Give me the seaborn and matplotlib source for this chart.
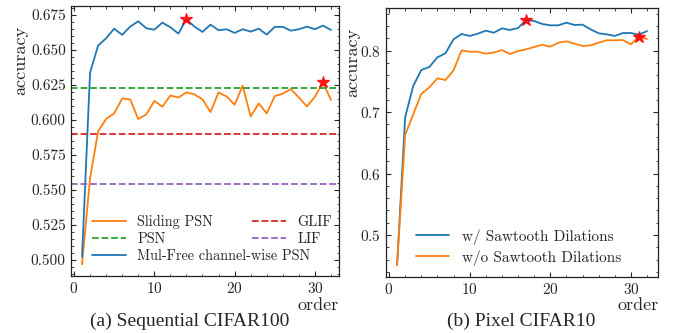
import numpy as np
import pandas as pd
import seaborn as sns
import matplotlib.pyplot as plt

# order values (x axis) shared by every curve
order = list(range(1, 33))

# (a) Sequential CIFAR100
mulfree_psn = [0.5024, 0.6339, 0.6531, 0.6584, 0.6652, 0.6608, 0.6667, 0.6705,
               0.6655, 0.6645, 0.6695, 0.6662, 0.6617, 0.6719, 0.6667, 0.6629,
               0.6681, 0.6641, 0.6648, 0.6622, 0.6648, 0.6631, 0.6652, 0.6610,
               0.6665, 0.6665, 0.6638, 0.6648, 0.6667, 0.6648, 0.6674, 0.6643]
sliding_psn = [0.4970, 0.5585, 0.5919, 0.6008, 0.6047, 0.6154, 0.6147, 0.6007,
               0.6040, 0.6136, 0.6095, 0.6175, 0.6161, 0.6197, 0.6183, 0.6147,
               0.6057, 0.6197, 0.6168, 0.6109, 0.6245, 0.6026, 0.6118, 0.6047,
               0.6171, 0.6188, 0.6221, 0.6161, 0.6097, 0.6166, 0.6268, 0.6143]
psn_acc = 0.6230
glif_acc = 0.5900
lif_acc = 0.5545

# (b) Pixel CIFAR10
with_saw = [0.4510, 0.6915, 0.7425, 0.7686, 0.7735, 0.7892, 0.7958, 0.8186,
            0.8272, 0.8240, 0.8277, 0.8326, 0.8293, 0.8364, 0.8337, 0.8370,
            0.8500, 0.8484, 0.8435, 0.8413, 0.8413, 0.8456, 0.8419, 0.8424,
            0.8348, 0.8283, 0.8267, 0.8240, 0.8288, 0.8288, 0.8260, 0.8320]
without_saw = [0.4510, 0.6627, 0.6964, 0.7295, 0.7404, 0.7550, 0.7523, 0.7680,
               0.8006, 0.7984, 0.7984, 0.7951, 0.7970, 0.8010, 0.7946, 0.7995,
               0.8022, 0.8060, 0.8098, 0.8065, 0.8130, 0.8152, 0.8114, 0.8077,
               0.8087, 0.8130, 0.8170, 0.8170, 0.8173, 0.8104, 0.8228, 0.8190]

sns.set_style("ticks")
plt.rcParams["font.family"] = "serif"
plt.rcParams["font.serif"] = ["cmr10", "DejaVu Serif"]
plt.rcParams["axes.formatter.use_mathtext"] = True
plt.rcParams["mathtext.fontset"] = "cm"
plt.rcParams["xtick.direction"] = "in"
plt.rcParams["ytick.direction"] = "in"
plt.rcParams["xtick.top"] = True
plt.rcParams["ytick.right"] = True
plt.rcParams["xtick.minor.visible"] = True
plt.rcParams["ytick.minor.visible"] = True
plt.rcParams["xtick.major.size"] = 3.5
plt.rcParams["ytick.major.size"] = 3.5
plt.rcParams["xtick.minor.size"] = 1.8
plt.rcParams["ytick.minor.size"] = 1.8
plt.rcParams["axes.linewidth"] = 0.9
plt.rcParams["axes.edgecolor"] = "#222222"

blue = "#1f77b4"
orange = "#ff7f0e"

fig = plt.figure(figsize=(6.78, 3.33), dpi=100)
ax1 = fig.add_axes([0.1043, 0.171, 0.3957, 0.811])
ax2 = fig.add_axes([0.5689, 0.169, 0.4021, 0.806])

# ---------------- (a) ----------------
df_a = pd.DataFrame({"order": order, "sliding": sliding_psn, "mulfree": mulfree_psn})
sns.lineplot(data=df_a, x="order", y="sliding", ax=ax1, color=orange, lw=1.3, label="Sliding PSN")
ax1.axhline(psn_acc, color="#2ca02c", ls="--", lw=1.3, label="PSN")
sns.lineplot(data=df_a, x="order", y="mulfree", ax=ax1, color=blue, lw=1.3, label="Mul-Free channel-wise PSN")
ax1.axhline(glif_acc, color="#d62728", ls="--", lw=1.3, label="GLIF")
ax1.axhline(lif_acc, color="#9467bd", ls="--", lw=1.3, label="LIF")

for col in ["mulfree", "sliding"]:
    best = df_a.loc[df_a[col].idxmax()]
    ax1.plot(best["order"], best[col], marker="*", color="red", ms=9, mec="red", alpha=0.85, zorder=5)

ax1.set_xlim(-0.41, 33.0)
ax1.set_ylim(0.4886, 0.6814)
ax1.set_yticks(np.arange(0.5, 0.68, 0.025))
ax1.set_xticks([0, 10, 20, 30])
ax1.yaxis.set_major_formatter(plt.FormatStrFormatter("%.3f"))
ax1.tick_params(labelsize=11)
ax1.set_ylabel("accuracy", fontsize=13)
ax1.yaxis.set_label_coords(-0.16, 0.80)
ax1.set_xlabel("order", fontsize=13, loc="right", labelpad=1)
# second column tucked over the long third entry, as in the original
ax1.legend(ncol=2, frameon=False, fontsize=10.3, handlelength=2.4,
           loc="lower left", bbox_to_anchor=(0.03, 0.0), columnspacing=-4.1,
           labelspacing=0.25)

# ---------------- (b) ----------------
df_b = pd.DataFrame({"order": order, "with": with_saw, "without": without_saw})
sns.lineplot(data=df_b, x="order", y="with", ax=ax2, color=blue, lw=1.3, label="w/ Sawtooth Dilations")
sns.lineplot(data=df_b, x="order", y="without", ax=ax2, color=orange, lw=1.3, label="w/o Sawtooth Dilations")
for col in ["with", "without"]:
    best = df_b.loc[df_b[col].idxmax()]
    ax2.plot(best["order"], best[col], marker="*", color="red", ms=9, mec="red", alpha=0.85, zorder=5)

ax2.set_xlim(-0.41, 33.4)
ax2.set_ylim(0.432, 0.869)
ax2.set_yticks([0.5, 0.6, 0.7, 0.8])
ax2.set_xticks([0, 10, 20, 30])
ax2.tick_params(labelsize=11)
ax2.set_ylabel("accuracy", fontsize=13)
ax2.yaxis.set_label_coords(-0.094, 0.80)
ax2.set_xlabel("order", fontsize=13, loc="right", labelpad=1)
ax2.legend(frameon=False, fontsize=11, handlelength=2.2,
           loc="lower left", bbox_to_anchor=(0.06, -0.01), labelspacing=0.35)

fig.text(0.2795, 0.036, "(a) Sequential CIFAR100", ha="center", va="center",
         fontsize=14, family="Liberation Serif")
fig.text(0.768, 0.036, "(b) Pixel CIFAR10", ha="center", va="center",
         fontsize=14, family="Liberation Serif")

fig.savefig("out.png", dpi=100)
